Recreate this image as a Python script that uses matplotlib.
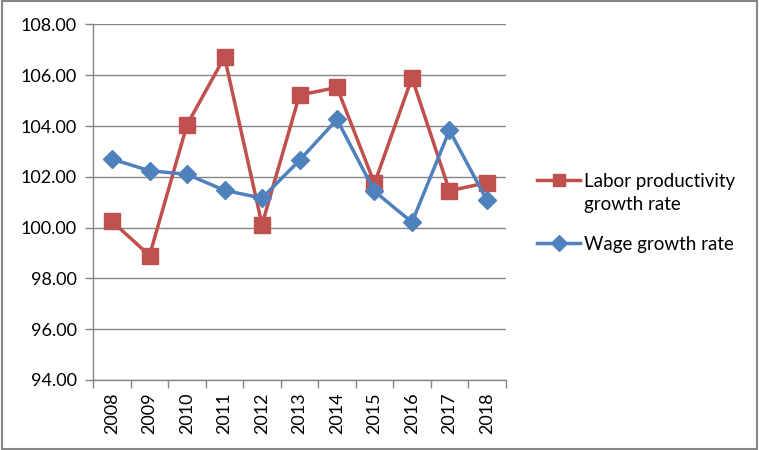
import matplotlib
matplotlib.use("Agg")
import matplotlib.pyplot as plt
from matplotlib.patches import Rectangle
from matplotlib.lines import Line2D

years = ["2008", "2009", "2010", "2011", "2012", "2013", "2014", "2015", "2016", "2017", "2018"]
labor = [100.25, 98.90, 104.05, 106.72, 100.12, 105.22, 105.52, 101.74, 105.90, 101.45, 101.77]
wage = [102.70, 102.24, 102.10, 101.47, 101.16, 102.65, 104.26, 101.43, 100.21, 103.83, 101.07]
yticks = [94, 96, 98, 100, 102, 104, 106, 108]

plt.rcParams['font.family'] = ['Lato', 'DejaVu Sans']

fig = plt.figure(figsize=(7.59, 4.5), dpi=100)
ax = fig.add_axes([0.1229, 0.1556, 0.5434, 0.790])

x = list(range(len(years)))
red = "#C0504D"
blue = "#4F81BD"
l1, = ax.plot(x, labor, color=red, lw=2.5, marker="s", ms=11, mec=red, mfc=red, zorder=3)
l2, = ax.plot(x, wage, color=blue, lw=2.5, marker="D", ms=9.5, mec=blue, mfc=blue, zorder=4)

ax.set_xlim(-0.5, len(years) - 0.5)
ax.set_ylim(94, 108)
ax.set_yticks(yticks)
ax.set_yticklabels([f"{v:.2f}" for v in yticks], fontsize=13)
ax.set_xticks(x)
ax.set_xticklabels(years, rotation=90, fontsize=13)
ax.tick_params(axis='x', length=0, pad=9)
ax.set_xticks([i - 0.5 for i in range(len(years) + 1)], minor=True)
ax.tick_params(axis='x', which='minor', length=6, color="#868686", width=1)
ax.tick_params(axis='y', length=6, color="#868686", width=1, pad=6)

ax.grid(axis='y', color="#868686", lw=1)
ax.set_axisbelow(True)
for s in ["top", "right"]:
    ax.spines[s].set_visible(False)
for s in ["left", "bottom"]:
    ax.spines[s].set_color("#868686")
    ax.spines[s].set_linewidth(1)

blank = Line2D([], [], linestyle="none")
common = dict(frameon=False, fontsize=13.5, handlelength=2.3, handletextpad=0.2,
              borderaxespad=0, borderpad=0, markerscale=0.85)
leg1 = fig.legend([l1, blank], ["Labor productivity", "growth rate"], loc="center left",
                  bbox_to_anchor=(537 / 759, 1 - 193 / 450), labelspacing=0.35, **common)
leg2 = fig.legend([l2], ["Wage growth rate"], loc="center left",
                  bbox_to_anchor=(537 / 759, 1 - 244 / 450), **common)

fig.patches.append(Rectangle((0.002, 0.003), 0.996, 0.994, transform=fig.transFigure,
                             fill=False, edgecolor="#868686", lw=1.5))

fig.savefig("out.png", dpi=100)
